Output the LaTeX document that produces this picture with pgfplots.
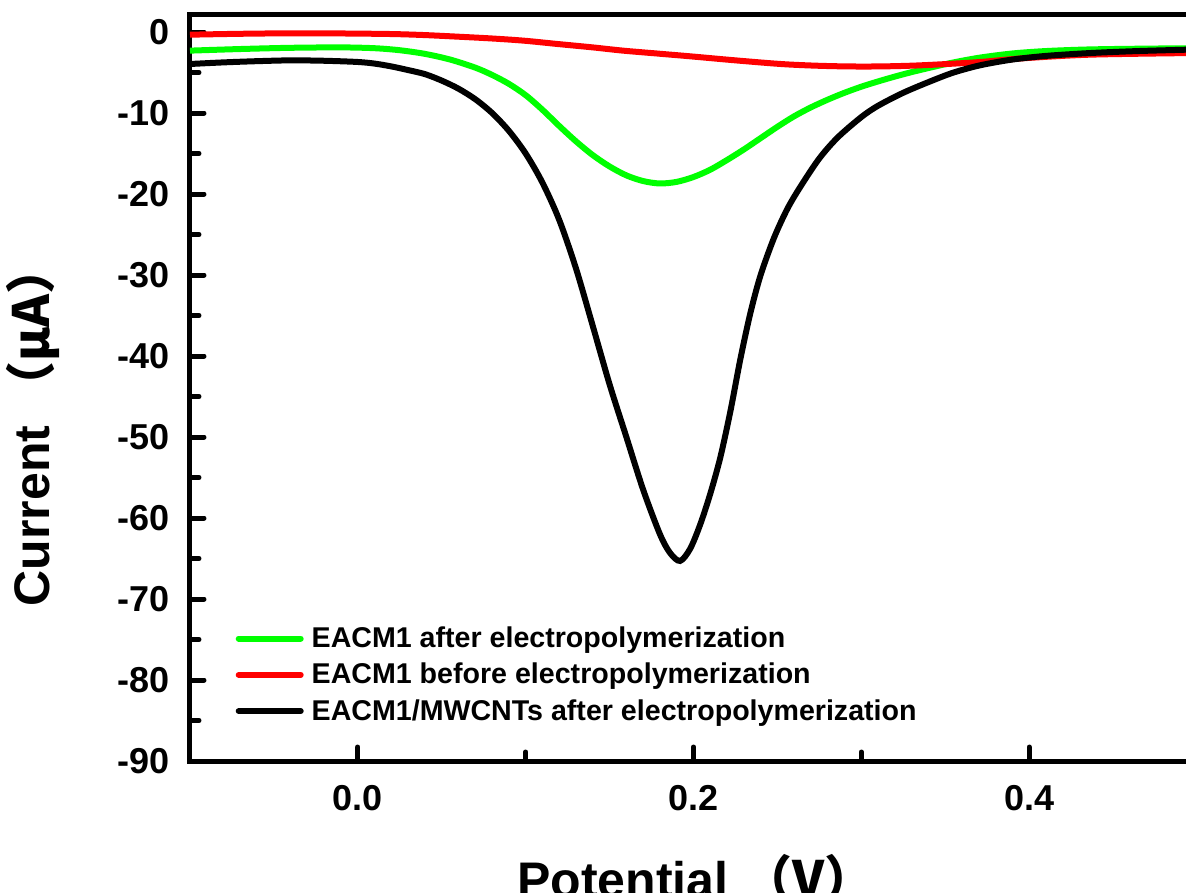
\documentclass[border=0pt]{standalone}
\usepackage{pgfplots}
\pgfplotsset{compat=1.18}
\usetikzlibrary{calc}
\usepackage{fontspec}
\setmainfont{Liberation Sans}
\newfontfamily\cjk{Noto Sans CJK SC}
\definecolor{cgreen}{RGB}{0,255,0}
\definecolor{cred}{RGB}{255,0,0}
\begin{document}
\begin{tikzpicture}
\begin{axis}[
  scale only axis,
  width=503.5pt, height=373pt,
  xmin=-0.1, xmax=0.5, ymin=-90, ymax=2.1,
  xtick={0,0.2,0.4}, minor xtick={-0.1,0.1,0.3,0.5},
  ytick={-90,-80,...,0}, minor y tick num=1,
  tick pos=left, tick align=inside,
  major tick length=7pt, minor tick length=4.5pt,
  every tick/.style={black, line width=2.5pt, line cap=round},
  axis line style={line width=2.5pt},
  /pgf/number format/assume math mode=true,
  xticklabel={\pgfmathprintnumber[fixed,fixed zerofill,precision=1]{\tick}},
  yticklabel={\pgfmathprintnumber[fixed,precision=0]{\tick}},
  xticklabel style={font=\fontsize{18}{18}\selectfont\bfseries, inner sep=0pt, yshift=-12pt},
  yticklabel style={font=\fontsize{18}{18}\selectfont\bfseries, inner sep=0pt, xshift=-10pt},
  xlabel={Potential \cjk{（}V\cjk{）}},
  ylabel={Current \cjk{（}μA\cjk{）}},
  xlabel style={font=\fontsize{25}{25}\selectfont\bfseries, at={(axis description cs:0.5025,-0.1836)}, anchor=base, inner sep=0pt},
  ylabel style={font=\fontsize{25}{25}\selectfont\bfseries, at={(axis description cs:-0.156,0.45)}, anchor=center, inner sep=0pt},
  legend style={draw=none, fill=none, at={(axis description cs:0.045,0.186)}, anchor=north west,
    font=\fontsize{14.3}{17}\selectfont\bfseries, inner sep=0pt, row sep=2.3pt, column sep=2pt,
    nodes={inner sep=2pt}},
  legend cell align=left,
  legend image code/.code={\draw[#1, line width=3pt, line cap=round] (0pt,0pt) -- (31pt,0pt);},
  every axis plot/.append style={line width=3pt, smooth, tension=0.5},
]
\addplot[cgreen] coordinates {
(-0.1,-2.3) (-0.07,-2.1) (-0.04,-1.95) (-0.01,-1.9) (0.01,-2.0) (0.025,-2.25) (0.04,-2.7)
(0.055,-3.4) (0.07,-4.4) (0.08,-5.3) (0.09,-6.4) (0.10,-7.8) (0.11,-9.6) (0.12,-11.6)
(0.13,-13.5) (0.14,-15.2) (0.15,-16.6) (0.16,-17.7) (0.17,-18.4) (0.18,-18.7) (0.19,-18.5)
(0.20,-17.9) (0.21,-17.0) (0.22,-15.8) (0.23,-14.5) (0.24,-13.1) (0.25,-11.7) (0.26,-10.4)
(0.27,-9.3) (0.28,-8.35) (0.29,-7.5) (0.30,-6.75) (0.31,-6.1) (0.32,-5.5) (0.33,-4.95)
(0.34,-4.45) (0.355,-3.75) (0.371,-3.15) (0.39,-2.65) (0.41,-2.35) (0.436,-2.15) (0.47,-2.05) (0.5,-2.0)};
\addlegendentry{EACM1 after electropolymerization}
\addplot[cred] coordinates {
(-0.1,-0.33) (-0.07,-0.22) (-0.04,-0.16) (-0.01,-0.18) (0.02,-0.25) (0.04,-0.38) (0.06,-0.58)
(0.08,-0.8) (0.099,-1.07) (0.119,-1.48) (0.14,-1.9) (0.158,-2.3) (0.178,-2.65) (0.198,-3.0)
(0.225,-3.5) (0.252,-3.95) (0.272,-4.15) (0.2917,-4.25) (0.311,-4.25) (0.331,-4.15)
(0.351,-3.95) (0.371,-3.7) (0.396,-3.25) (0.436,-2.8) (0.4935,-2.6) (0.5,-2.55)};
\addlegendentry{EACM1 before electropolymerization}
\addplot[black] coordinates {
(-0.1,-3.95) (-0.08,-3.75) (-0.06,-3.6) (-0.04,-3.5) (-0.02,-3.55) (0.0,-3.7) (0.01,-3.9)
(0.02,-4.25) (0.03,-4.7) (0.04,-5.2) (0.05,-6.0) (0.06,-7.0) (0.07,-8.3) (0.08,-10.0)
(0.09,-12.2) (0.10,-15.0) (0.11,-18.6) (0.12,-23.2) (0.13,-29.2) (0.14,-36.3) (0.15,-43.5)
(0.16,-50.0) (0.17,-56.5) (0.18,-62.0) (0.186,-64.3) (0.192,-65.3) (0.198,-63.8)
(0.204,-60.8) (0.21,-57.0) (0.216,-52.5) (0.222,-46.8) (0.228,-40.3) (0.234,-34.6)
(0.24,-30.0) (0.248,-25.4) (0.256,-21.8) (0.264,-19.0) (0.275,-15.6) (0.286,-13.0)
(0.30,-10.5) (0.31,-9.1) (0.325,-7.5) (0.341,-6.1) (0.355,-5.0) (0.371,-4.1) (0.39,-3.4)
(0.41,-2.95) (0.436,-2.6) (0.465,-2.35) (0.5,-2.15)};
\addlegendentry{EACM1/MWCNTs after electropolymerization}
\end{axis}
\pgfresetboundingbox
\path[use as bounding box] ($(current axis.south west)+(-95pt,-65.5pt)$) rectangle ($(current axis.north west)+(498pt,7.5pt)$);
\end{tikzpicture}
\end{document}
